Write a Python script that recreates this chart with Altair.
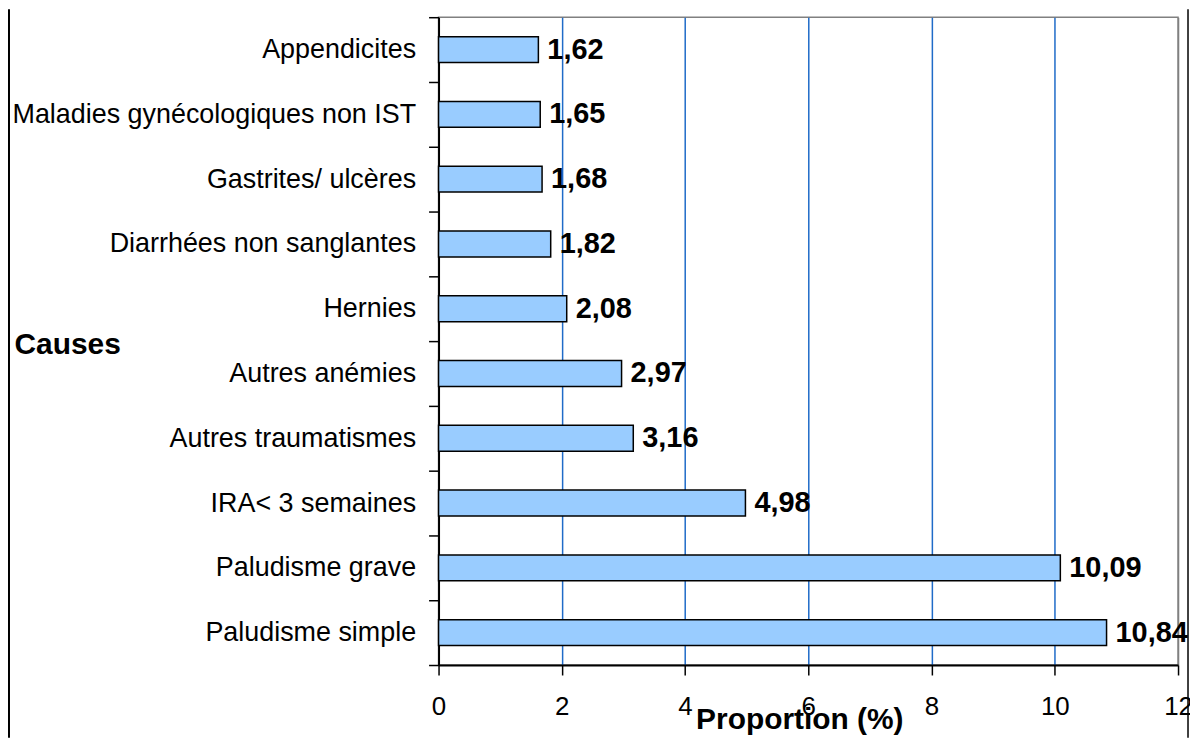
import altair as alt
import pandas as pd

causes = [
    "Appendicites",
    "Maladies gynécologiques non IST",
    "Gastrites/ ulcères",
    "Diarrhées non sanglantes",
    "Hernies ",
    "Autres anémies",
    "Autres traumatismes",
    "IRA< 3 semaines",
    "Paludisme grave",
    "Paludisme simple",
]
values = [1.62, 1.65, 1.68, 1.82, 2.08, 2.97, 3.16, 4.98, 10.09, 10.84]
x_ticks = [0, 2, 4, 6, 8, 10, 12]

df = pd.DataFrame({"cause": causes, "value": values})
df["label"] = [f"{v:.2f}".replace(".", ",") for v in values]

FONT = "Liberation Sans"

x_enc = alt.X(
    "value:Q",
    scale=alt.Scale(domain=[0, 12], nice=False),
    axis=alt.Axis(
        values=x_ticks,
        format="d",
        title="Proportion (%)",
        titleFont=FONT,
        titleFontSize=30,
        titleFontWeight="bold",
        titleColor="black",
        titleX=362,
        titleY=64,
        titleAlign="center",
        titleBaseline="alphabetic",
        labelFont=FONT,
        labelFontSize=26,
        labelColor="black",
        labelPadding=19,
        labelFlush=False,
        tickSize=10,
        tickColor="black",
        tickWidth=1.5,
        domainColor="black",
        domainWidth=2,
        grid=True,
        gridColor={"condition": {"test": "datum.value === 12 || datum.value === 0", "value": "#808080"}, "value": "#1F6BC8"},
        gridWidth=1.5,
    ),
)

y_enc = alt.Y(
    "cause:N",
    sort=None,
    scale=alt.Scale(paddingInner=0, paddingOuter=0),
    axis=alt.Axis(
        title="Causes",
        titleFont=FONT,
        titleFontSize=30,
        titleFontWeight="bold",
        titleColor="black",
        titleAngle=0,
        titleX=-426,
        titleY=337,
        titleAlign="left",
        titleBaseline="alphabetic",
        labelFont=FONT,
        labelFontSize=27,
        labelColor="black",
        labelPadding=13,
        labelLimit=600,
        tickBand="extent",
        tickSize=10,
        tickColor="black",
        tickWidth=1.5,
        domainColor="black",
        domainWidth=2,
        grid=False,
    ),
)

base = alt.Chart(df)

bars = base.mark_bar(
    fill="#99CCFF", stroke="black", strokeWidth=1.5, height={"band": 0.4}
).encode(x=x_enc, y=y_enc)

texts = base.mark_text(
    align="left", baseline="middle", dx=9, fontSize=29, fontWeight="bold",
    font=FONT, color="black"
).encode(x="value:Q", y=alt.Y("cause:N", sort=None), text="label:N")

frame_data = alt.Data(values=[{"k": 1}])
left_frame = alt.Chart(frame_data).mark_rule(color="black", strokeWidth=2).encode(
    x=alt.value(-431), y=alt.value(-8), y2=alt.value(723)
)
right_frame = alt.Chart(frame_data).mark_rule(color="black", strokeWidth=1.5).encode(
    x=alt.value(752), y=alt.value(-8), y2=alt.value(723)
)

chart = (
    alt.layer(bars, texts, left_frame, right_frame)
    .properties(
        width=742,
        height=650,
        autosize=alt.AutoSizeParams(type="none"),
        padding={"left": 432, "top": 8, "right": 12, "bottom": 73},
        background="white",
    )
    .configure_view(stroke="#808080", strokeWidth=1.5)
)

chart.save("out.html", embed_options={"renderer": "svg", "actions": False})
